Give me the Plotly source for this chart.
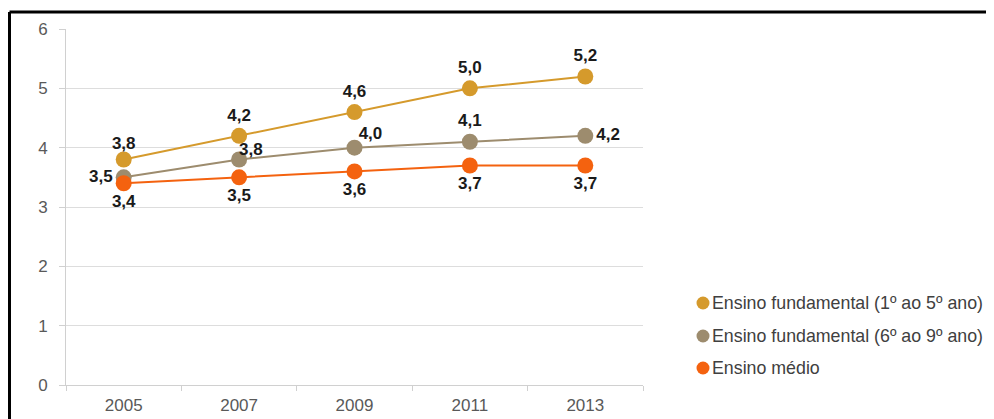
import plotly.graph_objects as go

years = ["2005", "2007", "2009", "2011", "2013"]
fund_1_5 = [3.8, 4.2, 4.6, 5.0, 5.2]
fund_6_9 = [3.5, 3.8, 4.0, 4.1, 4.2]
medio = [3.4, 3.5, 3.6, 3.7, 3.7]
series_names = ["Ensino fundamental (1º ao 5º ano)",
                "Ensino fundamental (6º ao 9º ano)",
                "Ensino médio"]
colors = ["#D59A2C", "#9D8C6E", "#F4620F"]
y_ticks = [0, 1, 2, 3, 4, 5, 6]

FONT = "Liberation Sans, Arial, sans-serif"
label_font = dict(family=FONT, size=17, color="#1a1a1a")
# data-label placement and spacing from each point
pos_1_5 = ["top center"] * 5
gap_1_5 = [9, 16, 16, 16, 16]
pos_6_9 = ["middle left", "top right", "top right", "top center", "middle right"]
gap_6_9 = [16, 0, 5, 16, 16]
pos_medio = ["bottom center"] * 5
gap_medio = [16, 16, 16, 16, 16]

fig = go.Figure()
series = [(fund_1_5, colors[0], series_names[0], pos_1_5, gap_1_5),
          (fund_6_9, colors[1], series_names[1], pos_6_9, gap_6_9),
          (medio, colors[2], series_names[2], pos_medio, gap_medio)]
for vals, col, name, pos, gap in series:
    fig.add_trace(go.Scatter(
        x=years, y=vals, name=name, mode="lines+markers",
        line=dict(color=col, width=2),
        marker=dict(color=col, size=16),
        cliponaxis=False, showlegend=False))
for vals, col, name, pos, gap in series:
    fig.add_trace(go.Scatter(
        x=years, y=vals, mode="markers+text",
        marker=dict(size=gap, color="rgba(0,0,0,0)", opacity=0, line=dict(width=0)),
        texttemplate="<b>%{y:.1f}</b>", textposition=pos,
        textfont=label_font, cliponaxis=False, showlegend=False, hoverinfo="skip"))

# page body has an 8px margin: work in page pixels, subtract the offset
OFF = 8
W, H = 994 - OFF, 419 - OFF
L, R, T, B = 66 - OFF, 994 - 643, 29 - OFF, 419 - 385
pw, ph = W - L - R, H - T - B


def px_x(p):
    return (p - OFF - L) / pw


def px_y(p):
    return (H - B - (p - OFF)) / ph


shapes = [
    dict(type="line", xref="paper", yref="paper", x0=px_x(9.5), x1=px_x(1000),
         y0=px_y(12), y1=px_y(12), line=dict(color="black", width=3)),
    dict(type="line", xref="paper", yref="paper", x0=px_x(9.5), x1=px_x(9.5),
         y0=px_y(12), y1=px_y(430), line=dict(color="black", width=3)),
]
annotations = []
leg_y = [303, 336, 368]
for name, col, yy in zip(series_names, colors, leg_y):
    r = 6.5
    shapes.append(dict(type="circle", xref="paper", yref="paper",
                       x0=px_x(703 - r), x1=px_x(703 + r),
                       y0=px_y(yy + r), y1=px_y(yy - r),
                       fillcolor=col, line=dict(color=col, width=0)))
    annotations.append(dict(xref="paper", yref="paper", x=px_x(710), y=px_y(yy),
                            text=name, showarrow=False, xanchor="left", yanchor="middle",
                            font=dict(family=FONT, size=17.8, color="#404040")))

fig.update_layout(
    width=W, height=H, margin=dict(l=L, r=R, t=T, b=B, autoexpand=False),
    paper_bgcolor="white", plot_bgcolor="white",
    separators=",.",
    shapes=shapes, annotations=annotations,
    xaxis=dict(type="category", range=[-0.5, 4.5], showgrid=False, automargin=False,
               showline=True, linecolor="#D0D0D0", linewidth=1,
               ticks="outside", tickson="boundaries", ticklen=5, tickcolor="#D0D0D0",
               ticklabelstandoff=5,
               tickfont=dict(family=FONT, size=17, color="#595959")),
    yaxis=dict(range=[0, 6], tickvals=y_ticks, showgrid=True, gridcolor="#DDDDDD",
               automargin=False,
               showline=True, linecolor="#D0D0D0", linewidth=1, zeroline=False,
               ticks="outside", ticklen=6, tickcolor="#D0D0D0", ticklabelstandoff=8,
               tickfont=dict(family=FONT, size=17, color="#595959")),
)

fig.write_html("out.html")
